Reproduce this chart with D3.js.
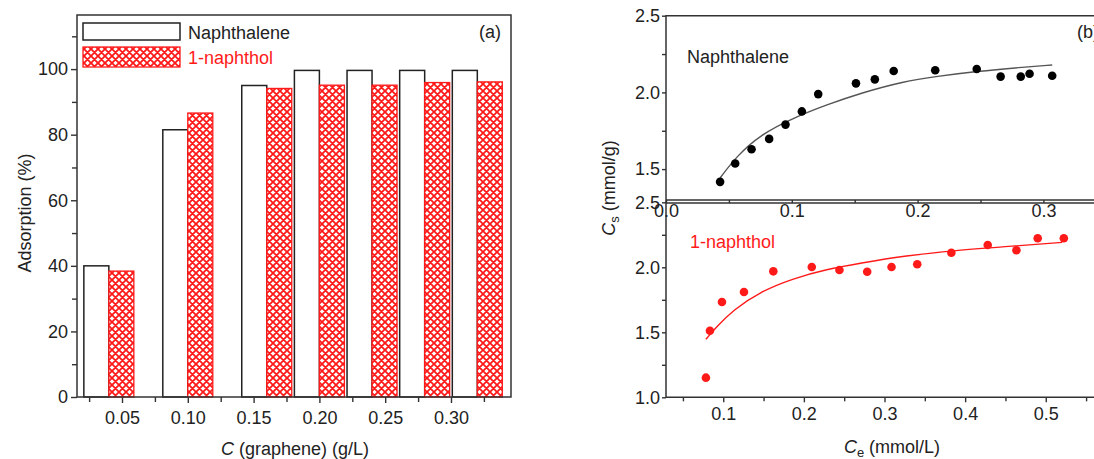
<!DOCTYPE html>
<html>
<head>
<meta charset="utf-8">
<script src="https://cdn.jsdelivr.net/npm/d3@7"></script>
<style>
  body { margin: 0; background: #fff; }
  svg { display: block; font-family: "Liberation Sans", Arial, sans-serif; }
  .axis path, .axis line { stroke: #333; stroke-width: 1.4; }
  .axis text { font-size: 18px; fill: #222; font-family: "Liberation Sans", Arial, sans-serif; }
</style>
</head>
<body>
<svg id="chart" width="1094" height="459"></svg>
<script>
// (a) adsorption vs graphene dose
var doseTicks = [0.05, 0.10, 0.15, 0.20, 0.25, 0.30];
var barDose = [0.040, 0.100, 0.160, 0.200, 0.240, 0.280, 0.320];
var naphBars = [40.0, 81.5, 95.0, 99.6, 99.6, 99.6, 99.6];
var naphtholBars = [38.4, 86.6, 94.1, 95.1, 95.1, 95.9, 96.1];

// (b) isotherms, naphthalene
var naphCe = [0.043, 0.055, 0.068, 0.082, 0.095, 0.108, 0.121, 0.151, 0.166, 0.181, 0.214, 0.247, 0.266, 0.282, 0.289, 0.307];
var naphCs = [1.417, 1.537, 1.629, 1.697, 1.790, 1.876, 1.989, 2.059, 2.085, 2.140, 2.144, 2.153, 2.103, 2.103, 2.122, 2.109];
var naphFitCe = [0.043, 0.056, 0.075, 0.101, 0.128, 0.155, 0.189, 0.215, 0.247, 0.282, 0.307];
var naphFitCs = [1.442, 1.583, 1.724, 1.833, 1.920, 1.996, 2.072, 2.104, 2.137, 2.163, 2.179];

// (b) isotherms, 1-naphthol
var olCe = [0.0785, 0.0835, 0.0984, 0.1257, 0.1621, 0.2098, 0.2441, 0.2785, 0.3087, 0.3406, 0.3829, 0.428, 0.4636, 0.490, 0.5224];
var olCs = [1.151, 1.512, 1.733, 1.810, 1.969, 2.002, 1.979, 1.966, 2.002, 2.023, 2.112, 2.172, 2.131, 2.223, 2.223];
var olFitCe = [0.0785, 0.0918, 0.1124, 0.1456, 0.187, 0.2284, 0.2698, 0.3236, 0.3857, 0.4478, 0.5204];
var olFitCs = [1.446, 1.543, 1.672, 1.812, 1.915, 1.985, 2.031, 2.087, 2.128, 2.158, 2.192];

var svg = d3.select("#chart");
var RED = "#ff1a1a", INK = "#333";

// crosshatch fill for the 1-naphthol bars
var pat = svg.append("defs").append("pattern")
    .attr("id", "hatch")
    .attr("patternUnits", "userSpaceOnUse")
    .attr("width", 7).attr("height", 7);
pat.append("rect").attr("width", 7).attr("height", 7).attr("fill", "#fff");
pat.append("path")
    .attr("d", "M-1,-1 L8,8 M-1,8 L8,-1 M-1,6 L1,8 M6,-1 L8,1 M-1,1 L1,-1 M6,8 L8,6")
    .attr("stroke", RED).attr("stroke-width", 1.8);

/* ---------- panel (a) ---------- */
var ax = d3.scaleLinear().domain([0.0158, 0.3456]).range([77, 511]);
var ay = d3.scaleLinear().domain([0, 116.5]).range([397, 15]);
var barW = 25;

var a = svg.append("g");

// bars
a.selectAll("rect.naph")
    .data(barDose)
    .enter().append("rect")
    .attr("class", "naph")
    .attr("x", function(d) { return ax(d) - barW; })
    .attr("y", function(d, i) { return ay(naphBars[i]); })
    .attr("width", barW)
    .attr("height", function(d, i) { return ay(0) - ay(naphBars[i]); })
    .attr("fill", "#fff").attr("stroke", "#222").attr("stroke-width", 1.5);

a.selectAll("rect.ol")
    .data(barDose)
    .enter().append("rect")
    .attr("class", "ol")
    .attr("x", function(d) { return ax(d); })
    .attr("y", function(d, i) { return ay(naphtholBars[i]); })
    .attr("width", barW)
    .attr("height", function(d, i) { return ay(0) - ay(naphtholBars[i]); })
    .attr("fill", "url(#hatch)").attr("stroke", RED).attr("stroke-width", 1.3);

// frame
a.append("rect")
    .attr("x", 77).attr("y", 15).attr("width", 434).attr("height", 382)
    .attr("fill", "none").attr("stroke", INK).attr("stroke-width", 1.5);

// axes, major + minor ticks
a.append("g").attr("class", "axis")
    .attr("transform", "translate(0,397)")
    .call(d3.axisBottom(ax).tickValues(doseTicks).tickFormat(d3.format(".2f")).tickSize(6).tickPadding(8));
a.append("g").attr("class", "axis")
    .attr("transform", "translate(0,397)")
    .call(d3.axisBottom(ax).tickValues([0.025, 0.075, 0.125, 0.175, 0.225, 0.275, 0.325]).tickFormat("").tickSize(5));
a.append("g").attr("class", "axis")
    .attr("transform", "translate(77,0)")
    .call(d3.axisLeft(ay).tickValues([0, 20, 40, 60, 80, 100]).tickSize(6).tickPadding(3));
a.append("g").attr("class", "axis")
    .attr("transform", "translate(77,0)")
    .call(d3.axisLeft(ay).tickValues([10, 30, 50, 70, 90, 110]).tickFormat("").tickSize(5));
a.selectAll(".domain").remove();

// legend
a.append("rect").attr("x", 83).attr("y", 23).attr("width", 97).attr("height", 17)
    .attr("fill", "#fff").attr("stroke", "#222").attr("stroke-width", 1.5);
a.append("rect").attr("x", 83).attr("y", 47).attr("width", 97).attr("height", 20)
    .attr("fill", "url(#hatch)").attr("stroke", RED).attr("stroke-width", 1.3);
a.append("text").attr("x", 188).attr("y", 39).attr("font-size", 18).attr("fill", "#222").text("Naphthalene");
a.append("text").attr("x", 188).attr("y", 64).attr("font-size", 18).attr("fill", RED).text("1-naphthol");
a.append("text").attr("x", 501).attr("y", 38).attr("font-size", 18).attr("fill", "#222")
    .attr("text-anchor", "end").text("(a)");

// axis titles
a.append("text")
    .attr("transform", "translate(31,213) rotate(-90)")
    .attr("text-anchor", "middle").attr("font-size", 18).attr("fill", "#222")
    .text("Adsorption (%)");
var at = a.append("text")
    .attr("x", 295).attr("y", 455)
    .attr("text-anchor", "middle").attr("font-size", 18).attr("fill", "#222");
at.append("tspan").attr("font-style", "italic").text("C");
at.append("tspan").text(" (graphene) (g/L)");

/* ---------- panel (b) ---------- */
var L = 666, R = 1106;
var tx = d3.scaleLinear().domain([0, 0.35]).range([L, L + 0.35 * 1258]);
var ty = d3.scaleLinear().domain([1.2986, 2.5]).range([200, 15.7]);
var bx = d3.scaleLinear().domain([0.029, 0.5747]).range([L, R]);
var by = d3.scaleLinear().domain([1.0, 2.5]).range([397.3, 202.3]);

var b = svg.append("g");

// frame lines
b.append("path")
    .attr("d", "M" + R + ",15.7 L" + L + ",15.7 L" + L + ",397.3 L" + R + ",397.3 M" + L + ",200 L" + R + ",200 M" + L + ",203 L" + R + ",203")
    .attr("fill", "none").attr("stroke", INK).attr("stroke-width", 1.5);

// top panel axes
b.append("g").attr("class", "axis")
    .attr("transform", "translate(" + L + ",0)")
    .call(d3.axisLeft(ty).tickValues([1.5, 2.0, 2.5]).tickFormat(d3.format(".1f")).tickSize(4).tickPadding(2));
b.append("g").attr("class", "axis")
    .attr("transform", "translate(" + L + ",0)")
    .call(d3.axisLeft(ty).tickValues([1.75, 2.25]).tickFormat("").tickSize(4));
b.append("g").attr("class", "axis")
    .attr("transform", "translate(0,200)")
    .call(d3.axisBottom(tx).tickValues([0, 0.1, 0.2, 0.3]).tickFormat(d3.format(".1f")).tickSize(3).tickPadding(1));
b.append("g").attr("class", "axis")
    .attr("transform", "translate(0,200)")
    .call(d3.axisBottom(tx).tickValues([0.05, 0.15, 0.25]).tickFormat("").tickSize(3));

// bottom panel axes
b.append("g").attr("class", "axis")
    .attr("transform", "translate(" + L + ",0)")
    .call(d3.axisLeft(by).tickValues([1.0, 1.5, 2.0, 2.5]).tickFormat(d3.format(".1f")).tickSize(4).tickPadding(2));
b.append("g").attr("class", "axis")
    .attr("transform", "translate(" + L + ",0)")
    .call(d3.axisLeft(by).tickValues([1.25, 1.75, 2.25]).tickFormat("").tickSize(4));
b.append("g").attr("class", "axis")
    .attr("transform", "translate(0,397.3)")
    .call(d3.axisBottom(bx).tickValues([0.1, 0.2, 0.3, 0.4, 0.5]).tickFormat(d3.format(".1f")).tickSize(5).tickPadding(5));
b.append("g").attr("class", "axis")
    .attr("transform", "translate(0,397.3)")
    .call(d3.axisBottom(bx).tickValues([0.05, 0.15, 0.25, 0.35, 0.45, 0.55]).tickFormat("").tickSize(4));
b.selectAll(".domain").remove();

// fit curves (smoothed through the read-off points)
var topLine = d3.line()
    .x(function(d, i) { return tx(naphFitCe[i]); })
    .y(function(d) { return ty(d); })
    .curve(d3.curveBasis);
b.append("path").attr("d", topLine(naphFitCs))
    .attr("fill", "none").attr("stroke", "#555").attr("stroke-width", 1.4);

var botLine = d3.line()
    .x(function(d, i) { return bx(olFitCe[i]); })
    .y(function(d) { return by(d); })
    .curve(d3.curveBasis);
b.append("path").attr("d", botLine(olFitCs))
    .attr("fill", "none").attr("stroke", RED).attr("stroke-width", 1.4);

// data points
b.selectAll("circle.naph")
    .data(naphCs)
    .enter().append("circle")
    .attr("class", "naph")
    .attr("cx", function(d, i) { return tx(naphCe[i]); })
    .attr("cy", function(d) { return ty(d); })
    .attr("r", 4.3).attr("fill", "#000");

b.selectAll("circle.ol")
    .data(olCs)
    .enter().append("circle")
    .attr("class", "ol")
    .attr("cx", function(d, i) { return bx(olCe[i]); })
    .attr("cy", function(d) { return by(d); })
    .attr("r", 4.3).attr("fill", RED);

// labels
b.append("text").attr("x", 687).attr("y", 63).attr("font-size", 18).attr("fill", "#222").text("Naphthalene");
b.append("text").attr("x", 690).attr("y", 248).attr("font-size", 18).attr("fill", RED).text("1-naphthol");
b.append("text").attr("x", 1077).attr("y", 38).attr("font-size", 18).attr("fill", "#222").text("(b)");

var yl = b.append("text")
    .attr("transform", "translate(615,188) rotate(-90)")
    .attr("text-anchor", "middle").attr("font-size", 18).attr("fill", "#222");
yl.append("tspan").attr("font-style", "italic").text("C");
yl.append("tspan").attr("font-size", 13).attr("dy", 4).text("s");
yl.append("tspan").attr("dy", -4).text(" (mmol/g)");

var xl = b.append("text")
    .attr("x", 892).attr("y", 453)
    .attr("text-anchor", "middle").attr("font-size", 18).attr("fill", "#222");
xl.append("tspan").attr("font-style", "italic").text("C");
xl.append("tspan").attr("font-size", 13).attr("dy", 4).text("e");
xl.append("tspan").attr("dy", -4).text(" (mmol/L)");
</script>
</body>
</html>
